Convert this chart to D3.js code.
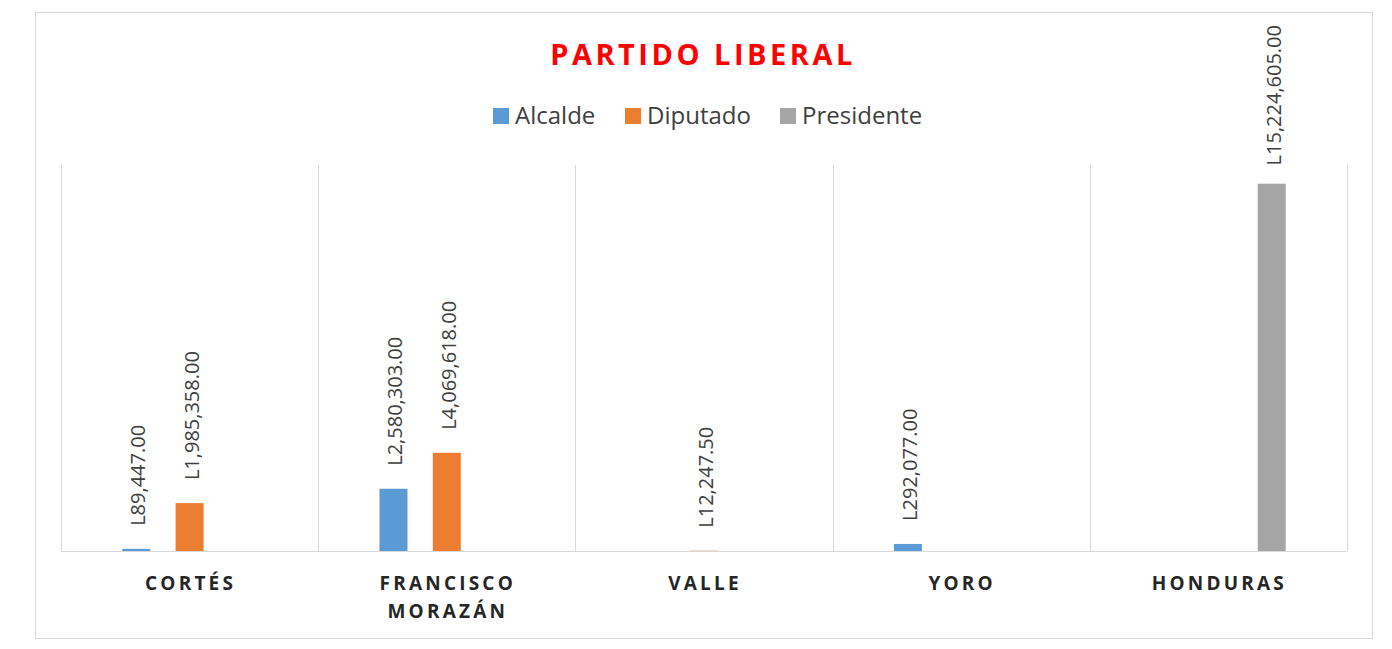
<!DOCTYPE html>
<html>
<head>
<meta charset="utf-8">
<script src="https://cdn.jsdelivr.net/npm/d3@7"></script>
<style>
  body { margin: 0; background: #ffffff; font-family: "Open Sans", sans-serif; }
  .cat { font-weight: bold; fill: #262626; letter-spacing: 3.2px; }
</style>
</head>
<body>
<div id="chart"></div>
<script>
var departamentos = ["CORTÉS", "FRANCISCO MORAZÁN", "VALLE", "YORO", "HONDURAS"];
var series = ["Alcalde", "Diputado", "Presidente"];
var alcalde = [89447.00, 2580303.00, 0, 292077.00, 0];
var diputado = [1985358.00, 4069618.00, 12247.50, 0, 0];
var presidente = [0, 0, 0, 0, 15224605.00];
var colores = ["#5b9bd5", "#ed7d31", "#a5a5a5"];

var valores = [alcalde, diputado, presidente];
var data = [];
for (var i = 0; i < departamentos.length; i++) {
  for (var s = 0; s < series.length; s++) {
    data.push({ cat: departamentos[i], serie: series[s], value: valores[s][i] });
  }
}

var W = 1392, H = 649;
var margin = { top: 165, left: 61, right: 45, bottom: 98 };

var svg = d3.select("#chart").append("svg")
    .attr("width", W)
    .attr("height", H);

// marco del grafico
svg.append("rect")
    .attr("x", 35.5).attr("y", 12.5)
    .attr("width", 1337).attr("height", 626)
    .attr("fill", "#fff")
    .attr("stroke", "#d9d9d9");

var x0 = d3.scaleBand()
    .domain(departamentos)
    .range([margin.left, W - margin.right]);

var x1 = d3.scaleBand()
    .domain(series)
    .range([0, x0.bandwidth()])
    .paddingInner(0.475)
    .paddingOuter(1.15);

var y = d3.scaleLinear()
    .domain([0, 16000000])
    .range([H - margin.bottom, margin.top]);

// lineas verticales entre categorias
var bordes = departamentos.map(function(d) { return x0(d); }).concat([x0.range()[1]]);
svg.selectAll(".sep")
    .data(bordes)
    .enter().append("line")
      .attr("x1", function(d) { return Math.round(d) + 0.5; })
      .attr("x2", function(d) { return Math.round(d) + 0.5; })
      .attr("y1", y.range()[1])
      .attr("y2", y(0))
      .attr("stroke", "#d9d9d9");

svg.append("line")
    .attr("x1", x0.range()[0]).attr("x2", x0.range()[1])
    .attr("y1", y(0) + 0.5).attr("y2", y(0) + 0.5)
    .attr("stroke", "#d9d9d9");

var color = d3.scaleOrdinal().domain(series).range(colores);

var barras = data.filter(function(d) { return d.value > 0; });

svg.selectAll(".bar")
    .data(barras)
    .enter().append("rect")
      .attr("class", "bar")
      .attr("x", function(d) { return x0(d.cat) + x1(d.serie); })
      .attr("y", function(d) { return y(d.value); })
      .attr("width", x1.bandwidth())
      .attr("height", function(d) { return y(0) - y(d.value); })
      .attr("fill", function(d) { return color(d.serie); });

var fmt = d3.format(",.2f");
var etiquetas = svg.selectAll(".lbl")
    .data(barras)
    .enter().append("text")
      .attr("class", "lbl")
      .attr("font-size", "20px")
      .attr("fill", "#404040")
      .attr("dy", "0.35em")
      .text(function(d) { return "L" + fmt(d.value); });

etiquetas.attr("transform", function(d) {
  var len = this.getComputedTextLength();
  var start = y(d.value) - 23;
  if (start - len < 25) start = 25 + len;
  var cx = x0(d.cat) + x1(d.serie) + x1.bandwidth() / 2 + 2;
  return "translate(" + cx + "," + start + ") rotate(-90)";
});

// etiquetas de categorias
svg.selectAll(".cat")
    .data(departamentos)
    .enter().append("text")
      .attr("class", "cat")
      .attr("font-size", "19px")
      .attr("text-anchor", "middle")
      .each(function(d) {
        var partes = d.split(" ");
        var t = d3.select(this);
        for (var k = 0; k < partes.length; k++) {
          t.append("tspan")
            .attr("x", x0(d) + x0.bandwidth() / 2 + 1)
            .attr("y", 590 + k * 28)
            .text(partes[k]);
        }
      });

// titulo
svg.append("text")
    .attr("x", 703)
    .attr("y", 65)
    .attr("text-anchor", "middle")
    .attr("font-size", "29px")
    .attr("font-weight", "bold")
    .attr("letter-spacing", "3.5px")
    .attr("fill", "#ff0000")
    .text("PARTIDO LIBERAL");

// leyenda
var legX = [493, 625, 780];
var leyenda = svg.selectAll(".leg")
    .data(series)
    .enter().append("g")
      .attr("class", "leg")
      .attr("transform", function(d, i) { return "translate(" + legX[i] + ",108)"; });

leyenda.append("rect")
    .attr("width", 16).attr("height", 16)
    .attr("fill", function(d) { return color(d); });

leyenda.append("text")
    .attr("x", 22)
    .attr("y", 8)
    .attr("dy", "0.35em")
    .attr("font-size", "24px")
    .attr("fill", "#404040")
    .text(function(d) { return d; });
</script>
</body>
</html>
